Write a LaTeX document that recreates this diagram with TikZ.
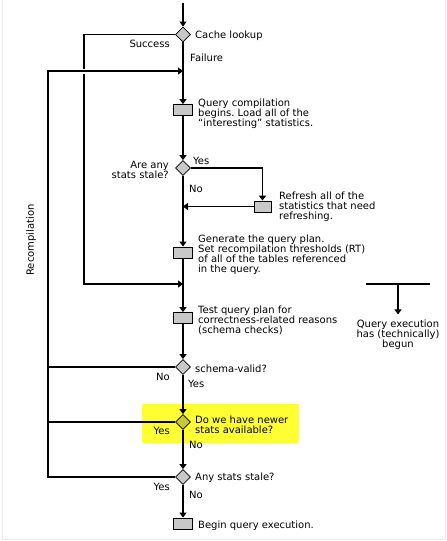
\documentclass[tikz,border=0pt]{standalone}
\usepackage{fontspec}
\setmainfont{DejaVu Sans}
\usepackage{xcolor}
\usetikzlibrary{shapes.geometric,arrows.meta,positioning}

\definecolor{boxgray}{RGB}{200,200,200}
\definecolor{hilite}{RGB}{255,255,51}
\definecolor{hiligray}{RGB}{200,200,52}
\frenchspacing

\begin{document}
\begin{tikzpicture}[x=1pt, y=-1pt,
    font=\fontsize{10}{10}\selectfont,
    line/.style={line width=1.3pt},
    flow/.style={line, -{Triangle[length=5pt,width=7pt]}},
    decision/.style={diamond, draw, line width=0.8pt, fill=boxgray, minimum width=15pt, minimum height=15pt, inner sep=0pt},
    stepbox/.style={rectangle, draw, line width=0.8pt, fill=boxgray, minimum width=19pt, minimum height=11pt, inner sep=0pt},
    note/.style={align=left, inner sep=0pt, anchor=west, yshift=-1.5pt},
    lbl/.style={inner sep=0pt, yshift=-1.5pt}]
    \useasboundingbox (0,0) rectangle (447,541);
    \draw[black!8] (2,0) -- (2,539) -- (445,539) -- (445,0);

    % highlighted test
    \fill[hilite] (142,404) rectangle (299,443);

    % main column
    \coordinate (top) at (183,3);
    \node[decision] (cache) at (183,34.5) {};
    \node[note] (cachetxt) at (195,34) {Cache lookup};
    \node[lbl, anchor=east] (success) at (170,42) {Success};
    \node[lbl, anchor=west] (failure) at (190,56) {Failure};
    \coordinate (rtop) at (48,71);
    \coordinate (rjoin) at (183,71);

    \node[stepbox] (qcomp) at (183,110) {};
    \node[note] (qcomptxt) at (198,112) {Query compilation\\begins. Load all of the\\“interesting” statistics.};

    \node[decision] (stale) at (183,168) {};
    \node[note, anchor=east, align=right] (staletxt) at (169,168) {Are any\\stats stale?};
    \node[lbl, anchor=west] (staleyes) at (193,159) {Yes};
    \node[lbl, anchor=west] (staleno) at (189,187) {No};

    \node[stepbox, minimum width=17pt] (refresh) at (262.5,206.5) {};
    \node[note] (refreshtxt) at (279,205) {Refresh all of the\\statistics that need\\refreshing.};

    \node[stepbox] (gen) at (183,252.5) {};
    \node[note] (gentxt) at (198,253.5) {Generate the query plan.\\Set recompilation thresholds (RT)\\of all of the tables referenced\\in the query.};
    \coordinate (sjoin) at (183,284);

    \node[stepbox] (test) at (183,318) {};
    \node[note] (testtxt) at (198,319) {Test query plan for\\correctness-related reasons\\(schema checks)};

    \node[decision] (schema) at (183,367) {};
    \node[note] (schematxt) at (195,367) {schema-valid?};
    \node[lbl, anchor=east] (schemano) at (170,375) {No};
    \node[lbl, anchor=west] (schemayes) at (188,382) {Yes};

    \node[decision, fill=hiligray] (newer) at (183,422) {};
    \node[note] (newertxt) at (195,423) {Do we have newer\\stats available?};
    \node[lbl, anchor=east] (neweryes) at (170,429) {Yes};
    \node[lbl, anchor=west] (newerno) at (189,443) {No};

    \node[decision] (anystale) at (183,477) {};
    \node[note] (anystaletxt) at (195,476) {Any stats stale?};
    \node[lbl, anchor=east] (anyyes) at (170,485) {Yes};
    \node[lbl, anchor=west] (anyno) at (189,493) {No};

    \node[stepbox] (begin) at (183,523.5) {};
    \node[note] (begintxt) at (198,524) {Begin query execution.};

    % legend
    \coordinate (legl) at (366,284);
    \coordinate (legr) at (430,284);
    \coordinate (legm) at (398,284);
    \node[lbl, align=center] (begun) at (398,333) {Query execution\\has (technically)\\begun};

    \node[inner sep=0pt, rotate=90] (recomp) at (31,240) {Recompilation};

    % loops back
    \draw[flow] (cache.west) -- ++(-91,0) |- (sjoin);
    \draw[flow, preaction={draw=white, line width=5pt, -, shorten >=4pt}] (anystale.west) -| (rtop) -- (rjoin);
    \draw[line] (schema.west) -- (schema.west -| rtop);
    \draw[line] (newer.west) -- (newer.west -| rtop);

    % forward flow
    \draw[flow] (top) -- (cache);
    \draw[flow] (cache) -- (qcomp);
    \draw[flow] (qcomp) -- (stale);
    \draw[flow] (stale) -- (gen);
    \draw[flow] (stale.east) -| (refresh);
    \draw[flow] (refresh.west) -- (refresh.west -| gen);
    \draw[flow] (gen) -- (test);
    \draw[flow] (test) -- (schema);
    \draw[flow] (schema) -- (newer);
    \draw[flow] (newer) -- (anystale);
    \draw[flow] (anystale) -- (begin);

    \draw[line] (legl) -- (legr);
    \draw[flow, shorten >=5pt] (legm) -- (begun.north);
\end{tikzpicture}
\end{document}
